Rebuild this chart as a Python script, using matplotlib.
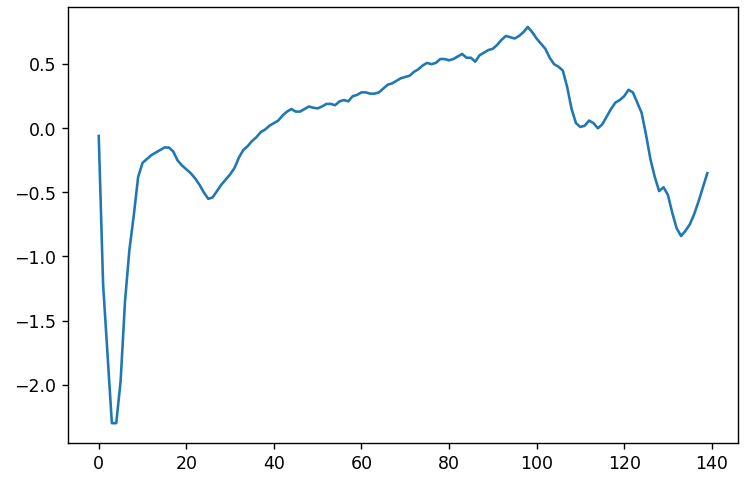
import matplotlib
matplotlib.use("Agg")
import matplotlib.pyplot as plt
import numpy as np

values = [
    -0.06, -1.22, -1.76, -2.30, -2.30, -1.97, -1.35, -0.95, -0.68, -0.38,
    -0.27, -0.24, -0.21, -0.19, -0.17, -0.15, -0.15, -0.18, -0.25, -0.29,
    -0.32, -0.35, -0.39, -0.44, -0.50, -0.55, -0.54, -0.49, -0.44, -0.40,
    -0.36, -0.31, -0.23, -0.17, -0.14, -0.10, -0.07, -0.03, -0.01, 0.02,
    0.04, 0.06, 0.10, 0.13, 0.15, 0.13, 0.13, 0.15, 0.17, 0.16,
    0.155, 0.17, 0.19, 0.19, 0.18, 0.21, 0.22, 0.21, 0.25, 0.26,
    0.28, 0.28, 0.27, 0.27, 0.28, 0.31, 0.34, 0.35, 0.37, 0.39,
    0.40, 0.41, 0.44, 0.46, 0.49, 0.51, 0.50, 0.51, 0.54, 0.54,
    0.53, 0.54, 0.56, 0.58, 0.55, 0.55, 0.52, 0.57, 0.59, 0.61,
    0.62, 0.65, 0.69, 0.72, 0.71, 0.70, 0.72, 0.75, 0.79, 0.75,
    0.70, 0.66, 0.62, 0.55, 0.50, 0.48, 0.45, 0.32, 0.15, 0.04,
    0.01, 0.02, 0.06, 0.04, 0.00, 0.03, 0.09, 0.15, 0.20, 0.22,
    0.25, 0.30, 0.28, 0.20, 0.12, -0.05, -0.24, -0.38, -0.49, -0.46,
    -0.52, -0.66, -0.78, -0.84, -0.80, -0.75, -0.67, -0.57, -0.46, -0.35,
]
x = np.arange(len(values))

fig = plt.figure(figsize=(6, 4), dpi=124.83)
ax = fig.add_axes([0.0912, 0.1122, 0.985 - 0.0912, 0.985 - 0.1122])
ax.plot(x, values)
fig.savefig("out.png", dpi=124.83)
